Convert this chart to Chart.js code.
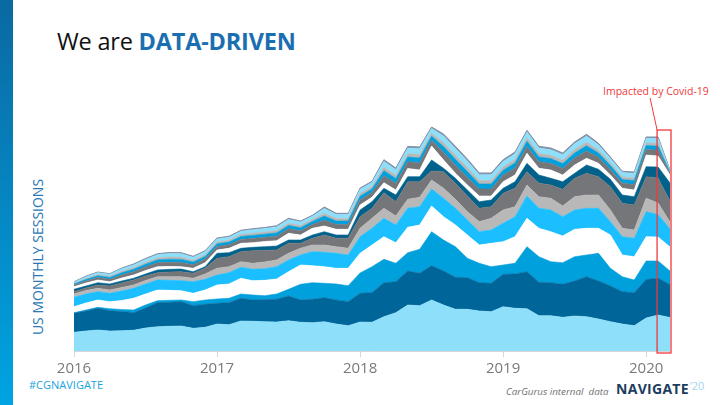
<!DOCTYPE html>
<html>
<head>
<meta charset="utf-8">
<script src="https://cdn.jsdelivr.net/npm/chart.js@4.4.1/dist/chart.umd.min.js"></script>
<style>
  html,body{margin:0;padding:0;background:#fff;}
  body{width:720px;height:405px;position:relative;overflow:hidden;font-family:"Open Sans",sans-serif;}
  #bar{position:absolute;left:0;top:0;width:13px;height:405px;background:linear-gradient(#0a69a2,#00a4e2);}
  #title{position:absolute;left:57px;top:25px;font-size:23.5px;color:#111;white-space:nowrap;letter-spacing:-0.2px;}
  #title b{color:#1b6fb1;font-weight:700;}
  #ytitle{position:absolute;left:37px;top:257px;transform:translate(-50%,-50%) rotate(-90deg);font-size:14px;color:#2b78b6;white-space:nowrap;}
  #covid{position:absolute;left:603px;top:84px;font-size:10.5px;color:#f0383c;white-space:nowrap;}
  #hash{position:absolute;left:29px;top:377px;font-size:11px;color:#1aa2dc;white-space:nowrap;}
  #src{position:absolute;left:506px;top:385px;font-size:9.8px;font-style:italic;color:#6f6f6f;white-space:nowrap;}
  #nav{position:absolute;left:616px;top:379px;font-size:14px;font-weight:700;color:#1c3d5e;white-space:nowrap;letter-spacing:0.3px;}
  #nav span{font-weight:400;color:#9fd4ee;font-size:11px;vertical-align:top;position:relative;top:-1px;margin-left:1px;letter-spacing:0;}
  canvas{position:absolute;left:0;top:0;}
</style>
</head>
<body>
<div id="bar"></div>
<div id="title">We are <b>DATA-DRIVEN</b></div>
<div id="ytitle">US MONTHLY SESSIONS</div>
<div id="covid">Impacted by Covid-19</div>
<div id="hash">#CGNAVIGATE</div>
<div id="src">CarGurus internal&nbsp; data</div>
<div id="nav">NAVIGATE<span>’20</span></div>
<canvas id="c" width="720" height="405"></canvas>
<script>
const months = [
 "Jan 2016","Feb 2016","Mar 2016","Apr 2016","May 2016","Jun 2016","Jul 2016","Aug 2016","Sep 2016","Oct 2016","Nov 2016","Dec 2016",
 "Jan 2017","Feb 2017","Mar 2017","Apr 2017","May 2017","Jun 2017","Jul 2017","Aug 2017","Sep 2017","Oct 2017","Nov 2017","Dec 2017",
 "Jan 2018","Feb 2018","Mar 2018","Apr 2018","May 2018","Jun 2018","Jul 2018","Aug 2018","Sep 2018","Oct 2018","Nov 2018","Dec 2018",
 "Jan 2019","Feb 2019","Mar 2019","Apr 2019","May 2019","Jun 2019","Jul 2019","Aug 2019","Sep 2019","Oct 2019","Nov 2019","Dec 2019",
 "Jan 2020","Feb 2020","Mar 2020"
];
const yearTicks = ["2016","2017","2018","2019","2020"];

// monthly sessions by segment (arbitrary units), bottom to top
const seg01 = [18.7,20,21,20,20.3,20.7,23,24.3,24.7,25,22.7,23.7,27,26.3,30,29.7,29.3,29,30.3,28.7,28.3,29.3,27,25.3,29,28.7,34.3,38.3,46,45.3,51,46,41.7,41.7,40,39.3,44.3,42.7,42.3,35.3,35.3,33.7,35,34.3,32,29.3,27,25.3,33,36,33.5];
const seg02 = [19,20,21.7,20.3,19.2,17.6,20,24,24,24.3,22.6,23,20.7,22,22.7,21.3,22,22.7,24.7,22.3,23.4,24,24,24,28.7,29.6,34,31,34,32.4,34.3,34,32,31.6,28.3,28.4,32.4,34.3,37,33.4,33,33,35,40,38,35.7,32.3,33,38.5,36.7,33];
const seg03 = [0.6,1,1,2,2,2.7,3,2,2,1.7,4,4.3,4.3,4.4,4.3,5,4,5.3,6.7,15.7,16.6,14.4,16,16,20.3,26,23.4,18.4,18.3,24,34,31,30.6,19.4,19.4,16.6,9.3,10.7,25,25.6,21,21.6,24.3,21.7,27.7,17.7,15,12.7,18.5,17.3,13.5];
const seg04 = [6,7,7.3,7,9,11.7,11,10.7,10,9.3,8.4,10,14,14.3,15.7,14.3,15.4,15,17.6,19.3,17,16.6,15.7,17.4,19.7,21.7,22.6,20.6,25.4,24.3,25.7,23.3,21.7,23.3,18.3,23.4,23.3,26.6,28.4,28.4,30,26.7,27.4,26.7,25,33.3,21.7,23.3,24.3,24,24];
const seg05 = [9.4,9,8.3,8.4,9.5,10,10,10,10,10,11.6,10.7,10,11.3,11,11.4,11.6,12.3,11.7,10,14,14.4,15,13.3,16.6,16.7,18.4,17.7,19,18.3,17,18.4,16.7,15,13.3,13.3,18.4,20,22.3,20,21.7,19.3,19.3,20,20,13.3,18.3,18.4,25,22.5,18];
const seg06 = [3.3,3.5,3.4,3.3,3.5,3.3,3.5,3.3,3.6,4,3.4,5.3,6.7,6,5.6,6,6.7,6.7,6.7,6.7,6.7,7.3,6.6,6.7,8.4,10,10,9,9,9.4,9,10,9,8.3,10,11.7,13.3,10,11,11.6,11.7,10.7,13.3,13.3,13.3,11.7,8.4,8.3,13.4,11.5,7];
const seg07 = [2.3,2.5,3.3,4,4.5,5,4.5,4,4.7,5,5,5.7,10,10,10,12.6,11.5,10,10,5,6.7,10,8.4,10,11.6,10,15.6,14.3,17.6,15.6,9,16.6,16,15.7,13.4,11.6,16.7,18.4,13.3,13.4,13.3,16.7,18.4,21.7,18.3,23.3,25,25,21.6,25,21];
const seg08 = [2.4,2,2.3,2,2,1.7,2,2.7,2.7,2.7,1.6,1.6,5,4,3.4,3.4,3.8,4,3.3,3.3,3.3,3.3,3.3,3.3,6.7,6.6,4.4,6.7,5,5,11,3.4,5,6,6.6,6.7,5,6.6,8.4,8.3,6.7,7.6,5,8.3,7.4,7.4,8.3,8.3,10,11,18];
const seg09 = [2.6,3,2.7,2.3,3,3.3,3.5,3.3,2.8,2.3,3.4,4,3.3,4.4,5,4.6,5.2,5.3,6.7,5,6.7,5.7,5.7,5.7,5,4.4,5.6,5,8.3,6.7,14,8.3,5,5,5.7,4,6.6,6.7,10,6.7,8.3,6.7,8.3,6.7,6,4.3,6.7,6.7,11.7,11,8];
const seg10 = [1.5,2,2.4,2.4,3,3.3,3.6,3.9,4.2,4.2,3.6,3.6,3.6,3.6,3.9,4.2,4.2,4.5,4.5,4.2,3.9,5.7,4.8,4.8,5.1,4.8,6.9,6.6,6.6,6.9,5.7,7.8,8.1,7.8,6.9,6.9,6.6,6.9,6.9,6.6,6.6,6.6,6.9,7.2,6,5.4,5.1,5.4,5.4,5.7,1.5];
const seg11 = [1.1,1.5,1.8,1.8,2.2,2.4,2.6,2.9,3.1,3.1,2.6,2.6,2.6,2.6,2.9,3.1,3.1,3.3,3.3,3.1,2.9,4.2,3.5,3.5,3.7,3.5,5.1,4.8,4.8,5.1,4.2,5.7,5.9,5.7,5.1,5.1,4.8,5.1,5.1,4.8,4.8,4.8,5.1,5.3,4.4,4,3.7,4,4,4.2,1.1];
const seg12 = [0.8,1,1.2,1.2,1.5,1.6,1.8,2,2.1,2.1,1.8,1.8,1.8,1.8,2,2.1,2.1,2.2,2.2,2.1,2,2.8,2.4,2.4,2.6,2.4,3.4,3.3,3.3,3.4,2.8,3.9,4,3.9,3.4,3.4,3.3,3.4,3.4,3.3,3.3,3.3,3.4,3.6,3,2.7,2.6,2.7,2.7,2.8,0.8];
const seg13 = [1.2,1.8,2,2,2.5,2.8,3,3.2,3.5,3.5,3,3,3,3,3.2,3.5,3.5,3.8,3.8,3.5,3.2,4.8,4,4,4.3,4,5.8,5.5,5.5,5.8,4.8,6.5,6.8,6.5,5.8,5.8,5.5,5.8,5.8,5.5,5.5,5.5,5.8,6,5,4.5,4.3,4.5,4.5,4.8,1.2];
const seg14 = [0.4,0.6,0.6,0.6,0.8,0.9,1,1,1.1,1.1,1,1,1,1,1,1.1,1.1,1.2,1.2,1.1,1,1.5,1.3,1.3,1.3,1.3,1.8,1.8,1.8,1.8,1.5,2.1,2.2,2.1,1.8,1.8,1.8,1.8,1.8,1.8,1.8,1.8,1.8,1.9,1.6,1.4,1.3,1.4,1.4,1.5,0.4];

const series = [seg01,seg02,seg03,seg04,seg05,seg06,seg07,seg08,seg09,seg10,seg11,seg12,seg13,seg14];
const colors = ["#8ddffa","#00669a","#00a0dc","#ffffff","#1bbfff","#b8b8b8","#757679","#00628b","#ffffff","#757679","#00a0dc","#b8b8b8","#8ddffa","#8596ad"];

const datasets = series.map((d, i) => ({
  data: d,
  backgroundColor: colors[i],
  borderColor: i === series.length - 1 ? "#7f8ea3" : colors[i],
  borderWidth: i === series.length - 1 ? 1 : 0.6,
  fill: i === 0 ? "origin" : "-1",
  pointRadius: 0,
  tension: 0
}));

const covidBox = {
  id: "covidBox",
  afterDraw(chart) {
    const {ctx, scales: {x, y}, chartArea} = chart;
    const left = x.getPixelForValue(49) - 1;
    const right = x.getPixelForValue(50) + 1;
    const top = y.getPixelForValue(221);
    const bottom = chartArea.bottom + 2;
    ctx.save();
    ctx.strokeStyle = "#f0383c";
    ctx.lineWidth = 1.3;
    ctx.strokeRect(left, top, right - left, bottom - top);
    ctx.lineWidth = 1;
    ctx.beginPath();
    ctx.moveTo(left - 7, 98);
    ctx.lineTo(left, top);
    ctx.stroke();
    ctx.restore();
  }
};

new Chart(document.getElementById("c"), {
  type: "line",
  data: { labels: months, datasets },
  options: {
    responsive: false,
    animation: false,
    layout: { padding: { left: 74, right: 50, top: 121, bottom: 24 } },
    plugins: { legend: { display: false }, tooltip: { enabled: false } },
    scales: {
      x: {
        type: "category",
        offset: false,
        grid: {
          drawOnChartArea: false,
          tickLength: 6,
          color: (c) => (c.index % 12 === 0 ? "#d6d6d6" : "rgba(0,0,0,0)")
        },
        border: { color: "#d6d6d6", width: 1 },
        ticks: {
          autoSkip: false,
          maxRotation: 0,
          padding: 3,
          color: "#7a7a7a",
          font: { family: "Open Sans", size: 15 },
          callback: (v, i) => (i % 12 === 0 ? yearTicks[i / 12] : "")
        },
        afterFit: (s) => { s.height = 30; }
      },
      y: { display: false, stacked: true, min: 0, max: 230 }
    }
  },
  plugins: [covidBox]
});
</script>
</body>
</html>
